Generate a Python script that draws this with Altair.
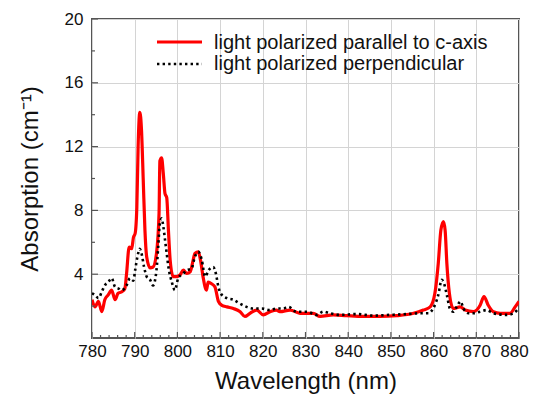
import altair as alt
import pandas as pd

# Light polarized parallel to c-axis (red)
par_nm = [780, 780.7, 781.5, 782.3, 783, 783.8, 784.6, 785.4, 786.1, 787, 787.7, 788.1, 788.7, 789.3,
          789.7, 790.1, 790.5, 790.8, 791.2, 791.6, 792, 792.4, 792.8, 793.6, 794.3, 795.1, 795.7,
          795.9, 796.3, 796.7, 797.1, 797.5, 797.9, 798.3, 799, 799.8, 800.6, 801.4, 802.2, 803,
          803.7, 804.1, 804.9, 805.4, 806, 806.8, 807.2, 808, 808.8, 809.6, 810.4, 811.6, 813.1,
          814.7, 815.8, 817, 818.6, 820.1, 821.7, 823.2, 824, 826.4, 828.7, 831.8, 833.4, 836.5,
          839.6, 843.5, 847.4, 851.4, 855.3, 857.6, 859.2, 860.3, 861.1, 861.7, 862.3, 862.7,
          863.1, 863.7, 864.6, 866.2, 867.4, 869.3, 870.9, 871.8, 872.8, 874, 875.6, 877.9,
          879.1, 880]
par_abs = [2.4, 1.95, 2.3, 1.65, 2.4, 2.7, 3.0, 2.4, 2.8, 2.9, 3.1, 4.05, 5.7, 5.6,
           6.3, 6.55, 8.2, 12.0, 14.15, 13.0, 9.9, 6.75, 5.1, 4.4, 4.45, 5.3, 7.8,
           11.1, 11.3, 10.3, 9.05, 8.8, 6.75, 4.9, 3.85, 3.85, 3.95, 4.25, 4.05, 4.15,
           4.9, 5.3, 5.4, 4.9, 3.85, 3.0, 3.5, 3.4, 3.2, 2.3, 2.05, 1.95, 1.85,
           1.65, 1.35, 1.55, 1.75, 1.45, 1.65, 1.75, 1.65, 1.75, 1.55, 1.55, 1.35, 1.45,
           1.4, 1.35, 1.35, 1.4, 1.55, 1.75, 1.95, 2.8, 4.7, 6.75, 7.3, 6.75,
           4.7, 2.8, 1.85, 1.95, 1.75, 1.65, 2.05, 2.6, 2.05, 1.65, 1.55, 1.55,
           1.95, 2.3]

# Light polarized perpendicular (black dotted)
perp_nm = [780, 780.7, 781.5, 782.3, 783, 783.8, 784.6, 785.4, 786.2, 787, 788.1, 788.9, 789.7,
           790.1, 790.8, 791.2, 791.6, 792.2, 792.8, 793.6, 794.3, 795.1, 795.5, 795.9, 796.3,
           796.7, 797.1, 797.5, 797.9, 798.7, 799.4, 800.2, 801.4, 802.2, 803.3, 804.1, 804.9,
           805.7, 806.5, 807.3, 808.4, 809, 809.6, 810.4, 811.6, 813.1, 814.7, 816.2, 817.8,
           819.7, 821.7, 823.2, 824.8, 826, 827.9, 830.3, 832.6, 834.2, 835.7, 838.1, 842,
           845.9, 849.8, 853.7, 856.8, 858.8, 859.9, 861.1, 861.9, 862.4, 863.1, 863.8, 864.6,
           865.4, 866.3, 867, 868.1, 869.3, 870.9, 872.4, 874, 877.1, 878.7, 879.9]
perp_abs = [2.8, 2.7, 2.5, 2.9, 3.3, 3.5, 3.75, 3.2, 3.1, 3.0, 3.3, 3.75, 3.6,
            4.25, 5.3, 5.6, 5.3, 4.45, 3.85, 3.65, 3.3, 4.25, 5.7, 7.2, 7.5,
            7.0, 6.15, 5.3, 4.45, 3.5, 3.0, 3.75, 4.05, 4.25, 4.35, 5.1, 5.4,
            4.9, 3.85, 4.25, 4.45, 4.05, 3.2, 2.7, 2.5, 2.4, 2.15, 1.95, 1.85,
            1.85, 1.75, 1.85, 1.85, 1.95, 1.65, 1.65, 1.45, 1.65, 1.55, 1.45, 1.5,
            1.4, 1.45, 1.5, 1.55, 1.55, 1.85, 2.7, 3.65, 3.45, 2.7, 1.85, 1.65,
            1.95, 2.3, 1.85, 1.55, 1.55, 1.65, 1.75, 1.55, 1.45, 1.55, 1.85]

legend_labels = ["light polarized parallel to c-axis", "light polarized perpendicular"]
x_major = list(range(780, 881, 10))
x_minor = [v for v in range(780, 881, 2) if v % 10 != 0]
y_major = [4, 8, 12, 16, 20]
y_minor = [2, 6, 10, 14, 18]

W, H = 427, 319
FONT = "Liberation Sans"

xs = alt.Scale(domain=[780, 880], nice=False, zero=False)
ys = alt.Scale(domain=[0, 20], nice=False, zero=False)

par_df = pd.DataFrame({"nm": par_nm, "a": par_abs})
perp_df = pd.DataFrame({"nm": perp_nm, "a": perp_abs})

xaxis = alt.Axis(values=x_major, grid=True, gridColor="#d4d4d4", gridWidth=1, tickSize=0,
                 domain=False, labelFontSize=17, labelFont=FONT, labelColor="#111",
                 labelPadding=5, title="Wavelength (nm)", titleFont=FONT, titleFontSize=24,
                 titleFontWeight="normal", titleColor="#111", titlePadding=10, labelFlush=False,
                 labelOffset={"expr": "datum.value == 880 ? -5 : 0"})
yaxis = alt.Axis(values=y_major, grid=True, gridColor="#d4d4d4", gridWidth=1, tickSize=0,
                 domain=False, labelFontSize=17, labelFont=FONT, labelColor="#111",
                 labelPadding=9, title="Absorption (cm⁻¹)", titleFont=FONT, titleFontSize=24,
                 titleFontWeight="normal", titleColor="#111", titleX=-62, titleY=H / 2,
                 titleBaseline="middle", labelFlush=False)

base_grid = alt.Chart(pd.DataFrame({"nm": [780], "a": [0]})).mark_point(opacity=0).encode(
    x=alt.X("nm:Q", scale=xs, axis=xaxis),
    y=alt.Y("a:Q", scale=ys, axis=yaxis),
)

red = alt.Chart(par_df).mark_line(color="#ff0000", strokeWidth=3.2, clip=True,
                                  interpolate="monotone").encode(
    x=alt.X("nm:Q", scale=xs), y=alt.Y("a:Q", scale=ys), order="nm:Q")
black = alt.Chart(perp_df).mark_line(color="#000000", strokeWidth=2.6, strokeDash=[2.4, 3.2],
                                     clip=True, interpolate="monotone").encode(
    x=alt.X("nm:Q", scale=xs), y=alt.Y("a:Q", scale=ys), order="nm:Q")

tick_color = "#555"
xmaj = alt.Chart(pd.DataFrame({"v": x_major})).mark_rule(color=tick_color, strokeWidth=1.2).encode(
    x=alt.X("v:Q", scale=xs), y=alt.value(H), y2=alt.value(H - 6))
xmin = alt.Chart(pd.DataFrame({"v": x_minor})).mark_rule(color=tick_color, strokeWidth=1.2).encode(
    x=alt.X("v:Q", scale=xs), y=alt.value(H), y2=alt.value(H - 3))
ymaj = alt.Chart(pd.DataFrame({"v": y_major})).mark_rule(color=tick_color, strokeWidth=1.2).encode(
    y=alt.Y("v:Q", scale=ys), x=alt.value(0), x2=alt.value(6))
ymin = alt.Chart(pd.DataFrame({"v": y_minor})).mark_rule(color=tick_color, strokeWidth=1.2).encode(
    y=alt.Y("v:Q", scale=ys), x=alt.value(0), x2=alt.value(3))

leg_red = alt.Chart(pd.DataFrame({"l": [legend_labels[0]]})).mark_rule(
    color="#ff0000", strokeWidth=3.2).encode(x=alt.value(65), x2=alt.value(110), y=alt.value(23))
leg_black = alt.Chart(pd.DataFrame({"l": [legend_labels[1]]})).mark_rule(
    color="#000000", strokeWidth=2.6, strokeDash=[2.4, 3.2]).encode(
    x=alt.value(65), x2=alt.value(110), y=alt.value(45))
leg_t1 = alt.Chart(pd.DataFrame({"l": [legend_labels[0]]})).mark_text(
    align="left", baseline="middle", fontSize=20, font=FONT, color="#111").encode(
    x=alt.value(122), y=alt.value(24), text="l:N")
leg_t2 = alt.Chart(pd.DataFrame({"l": [legend_labels[1]]})).mark_text(
    align="left", baseline="middle", fontSize=20, font=FONT, color="#111").encode(
    x=alt.value(122), y=alt.value(45), text="l:N")

chart = alt.layer(base_grid, red, black, xmaj, xmin, ymaj, ymin,
                  leg_red, leg_black, leg_t1, leg_t2).properties(
    width=W, height=H,
    autosize=alt.AutoSizeParams(type="none"),
    padding={"left": 84, "top": 11, "right": 10, "bottom": 64},
    background="white",
).configure_view(stroke="#555", strokeWidth=2)

chart.save("out.html", embed_options={"renderer": "svg", "actions": False})
